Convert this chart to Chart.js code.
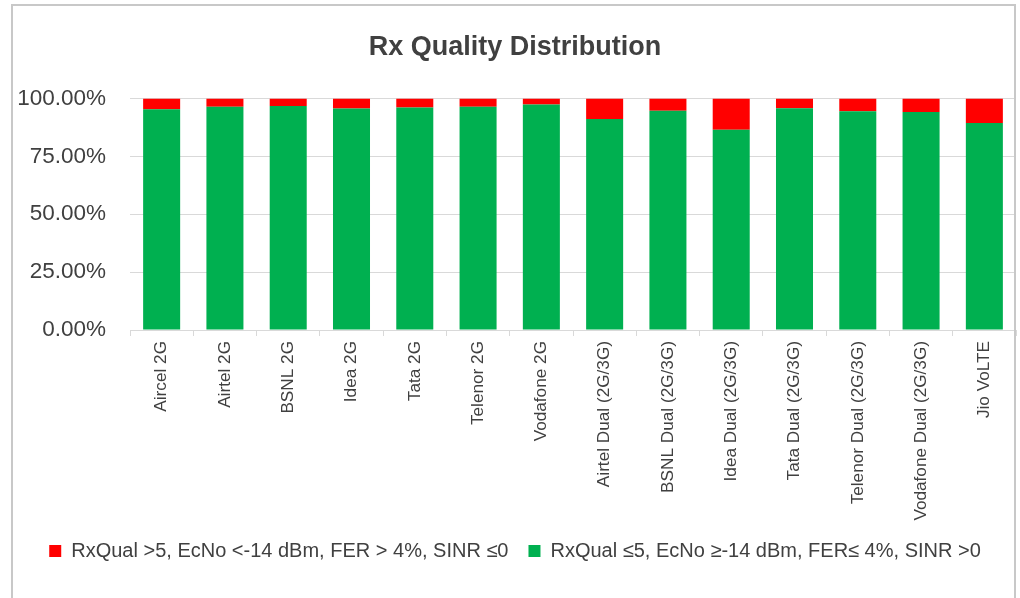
<!DOCTYPE html>
<html>
<head>
<meta charset="utf-8">
<script src="https://cdn.jsdelivr.net/npm/chart.js@4"></script>
<style>
  html,body{margin:0;padding:0;background:#fff;overflow:hidden;}
  #wrap{position:absolute;left:0;top:0;width:1020px;height:598px;}
  #frame{position:absolute;left:11px;top:4px;width:1001px;height:700px;border:2px solid #c8c8c8;pointer-events:none;}
</style>
</head>
<body>
<div id="wrap"><canvas id="rxq"></canvas></div>
<div id="frame"></div>
<script>
// ----- Datos -----
const categories = ['Aircel 2G','Airtel 2G','BSNL 2G','Idea 2G','Tata 2G','Telenor 2G','Vodafone 2G',
  'Airtel Dual (2G/3G)','BSNL Dual (2G/3G)','Idea Dual (2G/3G)','Tata Dual (2G/3G)',
  'Telenor Dual (2G/3G)','Vodafone Dual (2G/3G)','Jio VoLTE'];
const goodLabel = 'RxQual \u22645, EcNo \u2265-14 dBm, FER\u2264 4%, SINR >0';
const badLabel = 'RxQual >5, EcNo <-14 dBm, FER > 4%, SINR \u22640';
const goodVals = [95.3, 96.4, 96.7, 95.6, 96.1, 96.4, 97.4, 91.1, 94.7, 86.5, 95.8, 94.4, 94.1, 89.4];
const badVals  = [4.7, 3.6, 3.3, 4.4, 3.9, 3.6, 2.6, 8.9, 5.3, 13.5, 4.2, 5.6, 5.9, 10.6];
const yTicks = [0, 25, 50, 75, 100];

// ----- Estilo -----
const font = "'Liberation Sans','Arial',sans-serif";
const txt = '#404040';
const grid = '#d9d9d9';

new Chart(document.getElementById('rxq'),{
  type:'bar',
  data:{ labels: categories,
    datasets:[
      { label: goodLabel, data: goodVals, backgroundColor:'#00b050', borderWidth:0 },
      { label: badLabel, data: badVals, backgroundColor:'#ff0000', borderWidth:0 }
    ] },
  options:{
    responsive:true, maintainAspectRatio:false, animation:false,
    layout:{ padding:{ left:14, right:4, top:0, bottom:27 } },
    datasets:{ bar:{ categoryPercentage:1, barPercentage:0.585 } },
    plugins:{
      title:{ display:true, text:'Rx Quality Distribution', color:txt,
        font:{ family:font, size:27, weight:'bold' }, padding:{ top:31, bottom:35 } },
      legend:{ position:'bottom', reverse:true,
        labels:{ color:txt, font:{ family:font, size:20 }, boxWidth:12, boxHeight:12, padding:20 } },
      tooltip:{ enabled:false }
    },
    scales:{
      x:{ stacked:true,
        afterFit: s=>{ s.height = 191; },
        grid:{ display:true, drawOnChartArea:false, drawTicks:true, tickLength:6, color:grid },
        border:{ color:grid },
        ticks:{ color:txt, font:{ family:font, size:17.2 }, minRotation:90, maxRotation:90, padding:5, autoSkip:false } },
      y:{ stacked:true, min:0, max:100,
        afterFit: s=>{ s.width = 116; },
        afterBuildTicks: s=>{ s.ticks = yTicks.map(v=>({ value:v })); },
        grid:{ color:grid, drawTicks:false },
        border:{ display:false },
        ticks:{ color:txt, font:{ family:font, size:22.5 }, padding:24,
          callback: v=> v.toFixed(2)+'%' } }
    }
  }
});
</script>
</body>
</html>
